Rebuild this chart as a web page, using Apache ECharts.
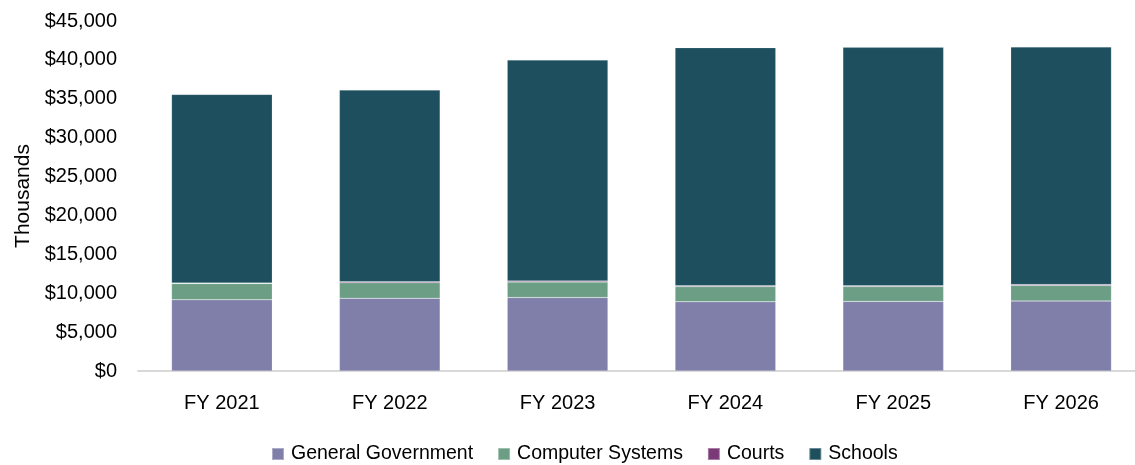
<!DOCTYPE html>
<html>
<head>
<meta charset="utf-8">
<script src="https://cdn.jsdelivr.net/npm/echarts@6/dist/echarts.min.js"></script>
<style>
  html, body { margin: 0; padding: 0; background: #fff; }
  #main { width: 1135px; height: 465px; }
</style>
</head>
<body>
<div id="main"></div>
<script>
// values in thousands of dollars
const years = ['FY 2021', 'FY 2022', 'FY 2023', 'FY 2024', 'FY 2025', 'FY 2026'];
const generalGovernment = [9150, 9350, 9450, 8900, 8950, 9000];
const computerSystems = [2100, 2000, 2000, 1950, 1900, 2000];
const courts = [60, 120, 130, 120, 110, 120];
const schools = [24250, 24650, 28400, 30600, 30650, 30550];

const font = '"Liberation Sans", Arial, sans-serif';
const colors = ['#7f7faa', '#6b9e84', '#7a3a78', '#1d4f5e'];

const chart = echarts.init(document.getElementById('main'), null, { renderer: 'canvas' });

function bar(name, data) {
    return {
        name: name,
        type: 'bar',
        stack: 'total',
        barCategoryGap: '40%',
        data: data,
        itemStyle: { borderColor: 'rgba(255,255,255,0.35)', borderWidth: 0.5 }
    };
}

chart.setOption({
    animation: false,
    color: colors,
    textStyle: { fontFamily: font },
    grid: { left: 138, top: 21, width: 1007, height: 350, outerBoundsMode: 'none', containLabel: false },
    legend: {
        top: 439,
        left: 266,
        icon: 'rect',
        itemWidth: 12,
        itemHeight: 12,
        itemGap: 24,
        textStyle: { fontSize: 19.5, color: '#000', fontFamily: font, padding: [0, 0, 0, 2] }
    },
    xAxis: {
        type: 'category',
        data: years,
        axisTick: { show: false },
        axisLine: { lineStyle: { color: '#d9d9d9', width: 2 } },
        axisLabel: { fontSize: 20, color: '#000', margin: 22, fontFamily: font }
    },
    yAxis: {
        type: 'value',
        min: 0,
        max: 45000,
        interval: 5000,
        name: 'Thousands',
        nameLocation: 'middle',
        nameGap: 104,
        nameTextStyle: { fontSize: 21, color: '#000', fontFamily: font },
        splitLine: { show: false },
        axisLine: { show: false },
        axisLabel: {
            fontSize: 20,
            color: '#000',
            margin: 21,
            fontFamily: font,
            formatter: v => '$' + v.toLocaleString('en-US')
        }
    },
    series: [
        bar('General Government', generalGovernment),
        bar('Computer Systems', computerSystems),
        bar('Courts', courts),
        bar('Schools', schools)
    ]
});
</script>
</body>
</html>
